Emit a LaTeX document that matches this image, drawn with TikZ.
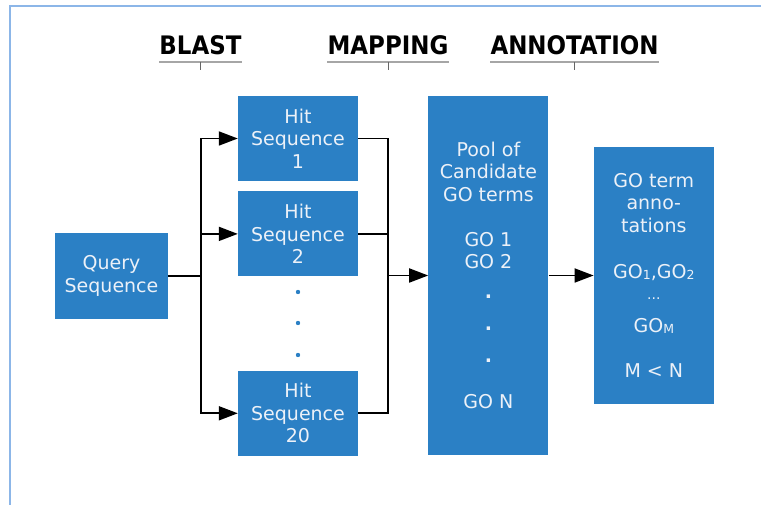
\documentclass[tikz,border=0pt]{standalone}
\usepackage{fontspec}
\setmainfont{DejaVu Sans}
\newfontfamily\headfont{DejaVu Sans Condensed}
\usepackage{xcolor}
\usetikzlibrary{positioning, arrows.meta}
\definecolor{boxblue}{RGB}{43,128,197}
\definecolor{boxtext}{RGB}{236,241,248}
\definecolor{framecol}{RGB}{140,182,232}
\newcommand{\lowidx}[1]{\raisebox{-0.5pt}{\fontsize{12.5}{12.5}\selectfont #1}}
\tikzset{
    seqbox/.style={rectangle, fill=boxblue, text=boxtext, align=center, font=\fontsize{19}{22.5}\selectfont, inner sep=0pt, minimum width=120pt},
    hitbox/.style={seqbox, minimum height=85pt},
    querybox/.style={seqbox, minimum width=113pt, minimum height=86pt},
    poolbox/.style={seqbox, minimum height=359pt},
    annobox/.style={seqbox, minimum height=257pt},
    phase/.style={font=\headfont\bfseries\fontsize{25.5}{25.5}\selectfont, inner sep=0pt, anchor=base},
    phaserule/.style={draw=gray!70, line width=2pt},
    phasetick/.style={draw=black!60, line width=0.8pt},
    link/.style={line width=1.8pt},
}

\begin{document}
\begin{tikzpicture}[x=1pt, y=-1pt, >={Triangle[length=19pt,width=14pt]}]
    \useasboundingbox (0,0) rectangle (761,505);
    % frame
    \draw[framecol, line width=1.5pt] (10,505) |- (761,6);

    % phases
    \node [phase] (blast) at (200.5,55) {BLAST};
    \node [phase] (mapping) at (388,55) {MAPPING};
    \node [phase] (annotation) at (574.5,55) {ANNOTATION};
    \foreach \p in {blast, mapping, annotation} {
        \draw[phaserule] ([yshift=-7pt]\p.base west) -- ([yshift=-7pt]\p.base east);
        \draw[phasetick] ([yshift=-7pt]\p.base) -- ([yshift=-15pt]\p.base);
    }

    % boxes
    \node [querybox] (query) at (111.5,276) {Query\\Sequence};
    \node [hitbox] (hit1) at (298,138.5) {Hit\\Sequence\\1};
    \node [hitbox] (hit2) [below=10pt of hit1] {Hit\\Sequence\\2};
    \node [hitbox] (hit20) [below=94pt of hit2] {Hit\\Sequence\\20};
    \node [poolbox] (pool) [right=70pt of hit1.north east, anchor=north west]
        {Pool of\\Candidate\\GO terms\\[22.5pt]GO 1\\GO 2\\[7.5pt]\textbf{.}\\[9.5pt]\textbf{.}\\[9.5pt]\textbf{.}\\[23.5pt]GO N};
    \node [annobox] (anno) [right=45pt of pool]
        {GO term\\anno-\\tations\\[24pt]GO\lowidx{1},GO\lowidx{2}\\[-2pt]{\fontsize{14}{14}\selectfont ...}\\[11pt]GO\lowidx{M}\\[22.5pt]M < N};
    \foreach \y in {292,323,355}
        \fill[boxblue] (298,\y) circle (2.2pt);

    % connectors
    \coordinate (split) at ([xshift=33pt]query.east);
    \path (hit2.east |- pool.west) ++(30pt,0pt) coordinate (merge);
    \draw[link] (query.east) -- (split);
    \foreach \h in {hit1, hit2, hit20} {
        \draw[link, ->] (split) |- (\h.west);
        \draw[link] (\h.east) -| (merge);
    }
    \draw[link, ->] (merge) -- (pool);
    \draw[link, ->] (pool) -- (anno);
\end{tikzpicture}
\end{document}
